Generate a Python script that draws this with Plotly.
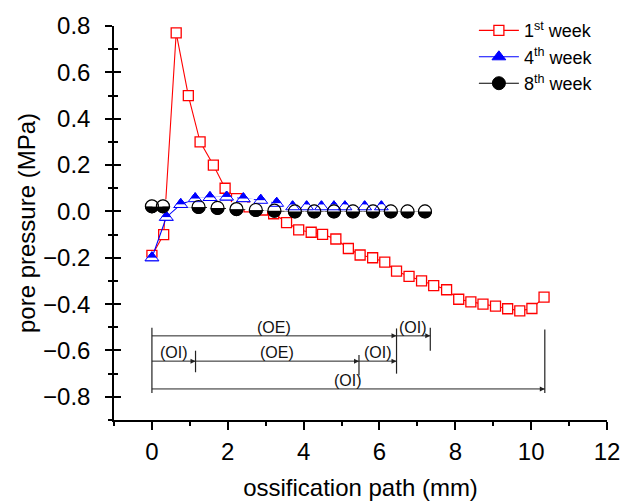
import plotly.graph_objects as go

# ---------------- data ----------------
week1_x = [0, 0.31, 0.64, 0.96, 1.27, 1.62, 1.93, 2.23, 2.56, 2.92, 3.21, 3.55, 3.87, 4.2, 4.5,
           4.85, 5.18, 5.49, 5.82, 6.14, 6.45, 6.78, 7.11, 7.43, 7.77, 8.09, 8.41, 8.73, 9.06,
           9.38, 9.7, 10.02, 10.34]
week1_y = [-0.19, -0.10, 0.77, 0.50, 0.30, 0.20, 0.10, 0.055, 0.02, 0.006, -0.01, -0.048, -0.08,
           -0.09, -0.099, -0.119, -0.16, -0.188, -0.20, -0.219, -0.258, -0.28, -0.30, -0.32,
           -0.338, -0.379, -0.39, -0.40, -0.409, -0.42, -0.429, -0.419, -0.37]

week4_x = [0, 0.38, 0.76, 1.14, 1.53, 1.97, 2.41, 2.87, 3.29, 3.71, 4.08, 4.47, 4.8, 5.09, 5.61, 6.05]
week4_y = [-0.20, -0.025, 0.03, 0.055, 0.06, 0.062, 0.055, 0.048, 0.035, 0.02, 0.02, 0.02, 0.02,
           0.02, 0.02, 0.02]

week8_x = [0, 0.29, 1.23, 1.73, 2.23, 2.74, 3.23, 3.77, 4.28, 4.80, 5.30, 5.83, 6.30, 6.74, 7.20]
week8_y = [0.022, 0.022, 0.019, 0.015, 0.01, 0.006, 0.003, 0.0, 0.0, 0.0, 0.0, 0.0, 0.0, 0.0, 0.0]

series_names = ["1<sup>st</sup> week", "4<sup>th</sup> week", "8<sup>th</sup> week"]

x_ticks = [0, 2, 4, 6, 8, 10, 12]
y_ticks = [-0.8, -0.6, -0.4, -0.2, 0.0, 0.2, 0.4, 0.6, 0.8]
x_range = [-1, 12]
y_range = [-0.9, 0.8]

# bracket diagram: rows (y level) with segments (start, end, label)
row_levels = [-0.537, -0.646, -0.766]
row_segments = [
    [(0, 6.45, "(OE)"), (6.45, 7.34, "(OI)")],
    [(0, 1.15, "(OI)"), (1.15, 5.46, "(OE)"), (5.46, 6.45, "(OI)")],
    [(0, 10.36, "(OI)")],
]
# vertical marker lines: (x, y_top, y_bottom)
bracket_verticals = [
    (0, -0.502, -0.784),
    (6.45, -0.505, -0.700),
    (7.34, -0.502, -0.601),
    (1.15, -0.601, -0.694),
    (5.46, -0.620, -0.707),
    (10.36, -0.509, -0.784),
]

# ---------------- layout geometry ----------------
W, H = 623, 501
M = dict(l=114, r=16, t=19, b=81)
plot_h = H - M["t"] - M["b"]
px_per_y = plot_h / (y_range[1] - y_range[0])

FONT = "Liberation Sans, Arial, sans-serif"
RED, BLUE, BLACK = "#ff0000", "#0000ff", "#000000"
LC = "#222222"

fig = go.Figure()

# main traces
fig.add_trace(go.Scatter(
    x=week1_x, y=week1_y, mode="lines+markers", name=series_names[0],
    line=dict(color=RED, width=1.1),
    marker=dict(symbol="square", size=10, color="white", line=dict(color=RED, width=1.3)),
))
fig.add_trace(go.Scatter(
    x=week4_x, y=week4_y, mode="lines+markers", name=series_names[1],
    line=dict(color=BLUE, width=1.1),
    marker=dict(symbol="triangle-up", size=12, color=BLUE, line=dict(color=BLUE, width=1)),
))
fig.add_trace(go.Scatter(
    x=week8_x, y=week8_y, mode="lines+markers", name=series_names[2],
    line=dict(color=BLACK, width=1.1),
    marker=dict(symbol="circle", size=13, color=BLACK, line=dict(color=BLACK, width=1)),
))

# white bands to make half-filled markers (on shifted overlay axes)
fig.add_trace(go.Scatter(
    x=week8_x, y=week8_y, mode="markers", showlegend=False, hoverinfo="skip", yaxis="y2",
    marker=dict(symbol="line-ew", size=15, color="white", line=dict(color="white", width=7)),
))
fig.add_trace(go.Scatter(
    x=week4_x, y=week4_y, mode="markers", showlegend=False, hoverinfo="skip", yaxis="y3",
    marker=dict(symbol="line-ew", size=15, color="white", line=dict(color="white", width=3)),
))
# outlines on top
fig.add_trace(go.Scatter(
    x=week4_x, y=week4_y, mode="markers", showlegend=False, hoverinfo="skip", yaxis="y4",
    marker=dict(symbol="triangle-up-open", size=12, color=BLUE, line=dict(color=BLUE, width=1)),
))
fig.add_trace(go.Scatter(
    x=week8_x, y=week8_y, mode="markers", showlegend=False, hoverinfo="skip", yaxis="y4",
    marker=dict(symbol="circle-open", size=13, color=BLACK, line=dict(color=BLACK, width=1.2)),
))

# arrowheads of the bracket diagram (tip at the segment end)
arrow_x = [b for segs in row_segments for (a, b, lab) in segs]
arrow_y = [lvl for lvl, segs in zip(row_levels, row_segments) for _ in segs]
fig.add_trace(go.Scatter(
    x=arrow_x, y=arrow_y, mode="markers", showlegend=False, hoverinfo="skip", yaxis="y4",
    marker=dict(symbol="arrow-right", size=5, color=LC, line=dict(width=0)),
))

d_up = 3.5 / px_per_y
d_down = 1.4 / px_per_y

# bracket diagram lines and labels
shapes = []
annotations = []
for level, segs in zip(row_levels, row_segments):
    for (a, b, lab) in segs:
        shapes.append(dict(type="line", xref="x", yref="y", x0=a, x1=b, y0=level, y1=level,
                           line=dict(color=LC, width=1)))
        annotations.append(dict(x=(a + b) / 2, y=level, xref="x", yref="y", text=lab,
                                showarrow=False, yanchor="bottom", yshift=-2,
                                font=dict(family=FONT, size=16, color="#111111")))
for (vx, y0, y1) in bracket_verticals:
    shapes.append(dict(type="line", xref="x", yref="y", x0=vx, x1=vx, y0=y0, y1=y1,
                       line=dict(color=LC, width=1.2)))

axis_font = dict(family=FONT, size=24, color="black")

fig.update_layout(
    width=W, height=H, margin=M,
    paper_bgcolor="white", plot_bgcolor="white",
    font=dict(family=FONT, color="black"),
    shapes=shapes, annotations=annotations,
    xaxis=dict(range=x_range, tickvals=x_ticks, ticks="outside", ticklen=8, tickwidth=1.5,
               tickcolor="black", showline=True, linecolor="black", linewidth=1.5,
               showgrid=False, zeroline=False, tickfont=axis_font, ticklabelstandoff=1,
               automargin=False,
               minor=dict(dtick=1, ticks="outside", ticklen=4, tickwidth=1.5, tickcolor="black"),
               title=dict(text="ossification path (mm)", font=axis_font, standoff=21)),
    yaxis=dict(range=y_range, tickvals=y_ticks, tickformat=".1f", ticks="outside", ticklen=7,
               tickwidth=1.5, tickcolor="black", showline=True, linecolor="black", linewidth=1.5,
               showgrid=False, zeroline=False, tickfont=axis_font, ticklabelstandoff=10,
               automargin=False,
               minor=dict(dtick=0.1, tick0=0, ticks="outside", ticklen=4, tickwidth=1.5,
                          tickcolor="black"),
               title=dict(text="pore pressure (MPa)", font=axis_font, standoff=1)),
    yaxis2=dict(overlaying="y", range=[y_range[0] - d_up, y_range[1] - d_up], visible=False),
    yaxis3=dict(overlaying="y", range=[y_range[0] + d_down, y_range[1] + d_down], visible=False),
    yaxis4=dict(overlaying="y", range=y_range, tickvals=y_ticks, ticks="inside", ticklen=7,
                tickwidth=1.5, tickcolor="black", showline=False, showgrid=False,
                zeroline=False, showticklabels=False, automargin=False,
                minor=dict(dtick=0.1, tick0=0, ticks="inside", ticklen=4, tickwidth=1.5,
                           tickcolor="black")),
    legend=dict(x=0.73, y=1.035, xanchor="left", yanchor="top", bgcolor="rgba(0,0,0,0)",
                font=dict(family=FONT, size=18, color="black"), tracegroupgap=0,
                itemwidth=40),
    showlegend=True,
)

fig.write_html("out.html")
